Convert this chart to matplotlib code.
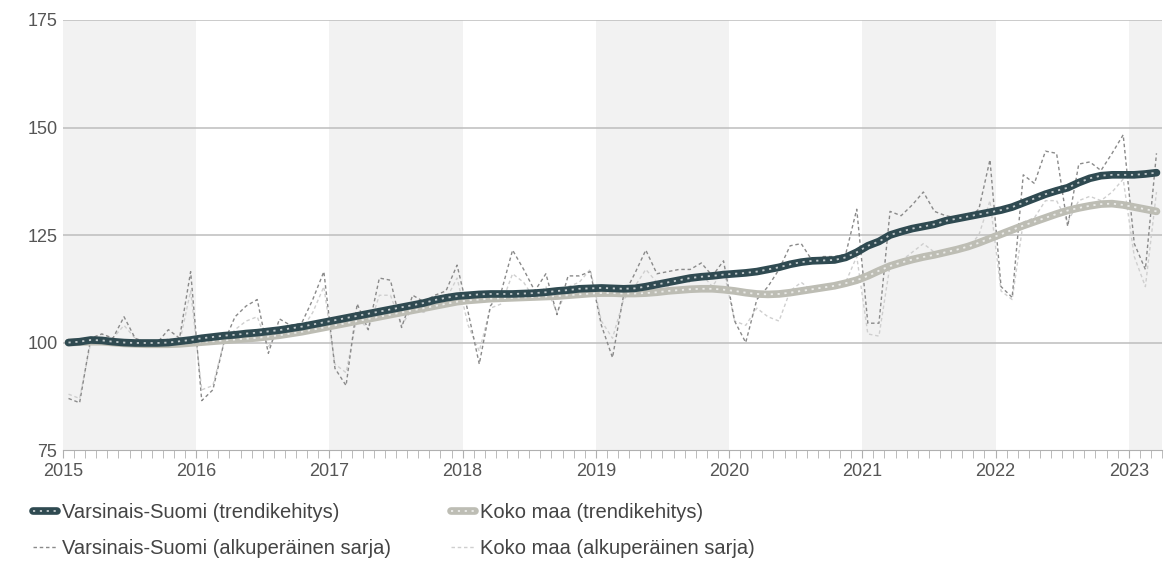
import matplotlib
matplotlib.use("Agg")
import matplotlib.pyplot as plt
from matplotlib.lines import Line2D
from matplotlib.ticker import MultipleLocator
import numpy as np

plt.rcParams.update({"font.family": ["Liberation Sans", "DejaVu Sans"], "font.size": 12})

# monthly values Jan 2015 .. Mar 2023 (index 2015=100)
vs_trend = [100, 100.2, 100.6, 100.5, 100.2, 100, 99.9, 99.9, 99.9, 100, 100.3, 100.6,
            101, 101.3, 101.6, 101.8, 102.1, 102.3, 102.6, 102.9, 103.3, 103.7, 104.2, 104.7,
            105.2, 105.7, 106.2, 106.7, 107.2, 107.7, 108.2, 108.7, 109.2, 109.9, 110.4, 110.8,
            111, 111.2, 111.3, 111.3, 111.3, 111.4, 111.5, 111.7, 112, 112.2, 112.5, 112.6,
            112.7, 112.6, 112.5, 112.6, 113, 113.5, 114, 114.5, 115, 115.3, 115.5, 115.8,
            116, 116.2, 116.5, 117, 117.5, 118.2, 118.7, 119, 119.1, 119.2, 119.8, 121,
            122.5, 123.5, 125, 125.8, 126.5, 127, 127.5, 128.3, 128.8, 129.3, 129.8, 130.3,
            130.8, 131.5, 132.5, 133.5, 134.5, 135.3, 136, 137.2, 138.2, 138.8, 139, 139,
            139, 139.2, 139.5]
km_trend = [100, 100.1, 100.2, 100.2, 100, 99.8, 99.7, 99.6, 99.6, 99.6, 99.7, 99.9,
            100.1, 100.3, 100.5, 100.7, 100.9, 101.1, 101.4, 101.7, 102.1, 102.5, 103, 103.5,
            104, 104.5, 105, 105.5, 106, 106.5, 107, 107.5, 108, 108.5, 109, 109.5,
            109.8, 110, 110.2, 110.3, 110.4, 110.5, 110.6, 110.7, 110.8, 111, 111.2, 111.4,
            111.5, 111.5, 111.4, 111.4, 111.5, 111.7, 112, 112.2, 112.4, 112.5, 112.5, 112.3,
            112, 111.6, 111.3, 111.2, 111.3, 111.6, 112, 112.4, 112.8, 113.2, 113.8, 114.5,
            115.5, 116.7, 117.8, 118.6, 119.3, 119.9, 120.4, 121, 121.6, 122.3, 123.2, 124.2,
            125.2, 126.2, 127.2, 128.1, 129, 129.9, 130.7, 131.3, 131.8, 132.2, 132.3, 132,
            131.5, 131, 130.5]
vs_orig = [87, 86, 101, 102, 101, 106, 101, 100, 100, 103, 101, 116.5,
           86.5, 89, 100, 106, 108.5, 110, 97.5, 105.5, 104, 104.5, 110, 116.5,
           94, 90, 109, 103, 115, 114.5, 103.5, 111, 109.5, 111, 112, 118,
           107, 95, 108.5, 112, 121.5, 117, 112, 116, 106.5, 115.5, 115.5, 116.5,
           104, 96.5, 111, 116, 121.5, 116, 116.5, 117, 117, 118.5, 115.5, 119,
           105, 100, 110, 113, 117, 122.5, 123, 119, 120, 120, 120.5, 131,
           104.5, 104.5, 130.5, 129.5, 132, 135, 130.5, 129.5, 129, 129, 131, 142.5,
           113, 110.5, 139, 137, 144.5, 144, 127, 141.5, 142, 140, 144, 148.3,
           123, 117, 144]
km_orig = [88, 87, 100, 102, 101, 104, 101, 100, 99, 101, 100, 112,
           89, 90, 100, 103, 105, 106, 99, 103, 102, 103, 107, 113,
           95, 93, 106, 103, 111, 111, 104, 108, 107, 109, 110, 115,
           104, 98, 108, 109, 116, 114, 110, 113, 107, 113, 114, 117,
           105, 101, 110, 113, 117, 114, 113, 115, 114, 116, 113, 117,
           105, 104, 108, 106, 105, 112, 114, 112, 113, 113, 114, 120,
           102, 101.5, 118, 119, 121, 123, 121, 121, 121, 122, 125, 133,
           112, 110, 128, 129, 133, 133, 128, 133, 134, 133, 135, 138,
           120, 113, 135]
labels = ["Varsinais-Suomi (trendikehitys)", "Varsinais-Suomi (alkuperäinen sarja)",
          "Koko maa (trendikehitys)", "Koko maa (alkuperäinen sarja)"]

DARK = "#2f4a51"
LIGHT = "#bdbdb4"
n = len(vs_trend)
x = 2015 + (np.arange(n) + 0.5) / 12

fig = plt.figure(figsize=(11.66, 5.83), dpi=100)
ax = fig.add_axes([0.054, 0.228, 0.9426, 0.7377])

for yr in range(2015, 2024, 2):
    ax.axvspan(yr, yr + 1, color="#f2f2f2", lw=0, zorder=0)
for v in [100, 125, 150, 175]:
    ax.axhline(v, color="#bdbdbd", lw=1.1, zorder=1)

ax.plot(x, km_orig, color="#cfcfcf", lw=1.0, ls=(0, (2.5, 2)), zorder=2)
ax.plot(x, vs_orig, color="#8a8a8a", lw=1.0, ls=(0, (2.5, 2)), zorder=3)
dots = dict(color="white", lw=1.3, ls=(0, (1.2, 2.6)), alpha=0.7, solid_capstyle="butt")
ax.plot(x, km_trend, color=LIGHT, lw=5.5, solid_capstyle="round", zorder=4)
ax.plot(x, km_trend, zorder=4, **dots)
ax.plot(x, vs_trend, color=DARK, lw=5.5, solid_capstyle="round", zorder=5)
ax.plot(x, vs_trend, zorder=5, **dots)

ax.set_xlim(2015, 2015 + n / 12)
ax.set_ylim(75, 175)
ax.set_yticks([75, 100, 125, 150, 175])
ax.set_xticks(range(2015, 2024))
ax.xaxis.set_minor_locator(MultipleLocator(1 / 12))
for s in ["top", "right", "left"]:
    ax.spines[s].set_visible(False)
ax.spines["bottom"].set_color("#b0b0b0")
ax.tick_params(axis="y", length=0, pad=4, colors="#555555", labelsize=13)
ax.tick_params(axis="x", which="both", length=6, color="#b0b0b0", labelcolor="#555555",
               labelsize=13, pad=3)

h_vs = (Line2D([], [], color=DARK, lw=5.5, solid_capstyle="round"), Line2D([], [], **dots))
h_km = (Line2D([], [], color=LIGHT, lw=5.5, solid_capstyle="round"), Line2D([], [], **dots))
h_vso = Line2D([], [], color="#8a8a8a", lw=1.0, ls=(0, (2.5, 2)))
h_kmo = Line2D([], [], color="#cfcfcf", lw=1.0, ls=(0, (2.5, 2)))
leg = fig.legend([h_vs, h_vso, h_km, h_kmo], labels, ncol=2, loc="upper left",
                 bbox_to_anchor=(0.028, 0.137), frameon=False, fontsize=14.5,
                 borderpad=0, borderaxespad=0,
                 handlelength=1.2, handletextpad=0.25, columnspacing=3.0, labelspacing=0.85,
                 labelcolor="#444444")

fig.savefig("out.png", dpi=100)
